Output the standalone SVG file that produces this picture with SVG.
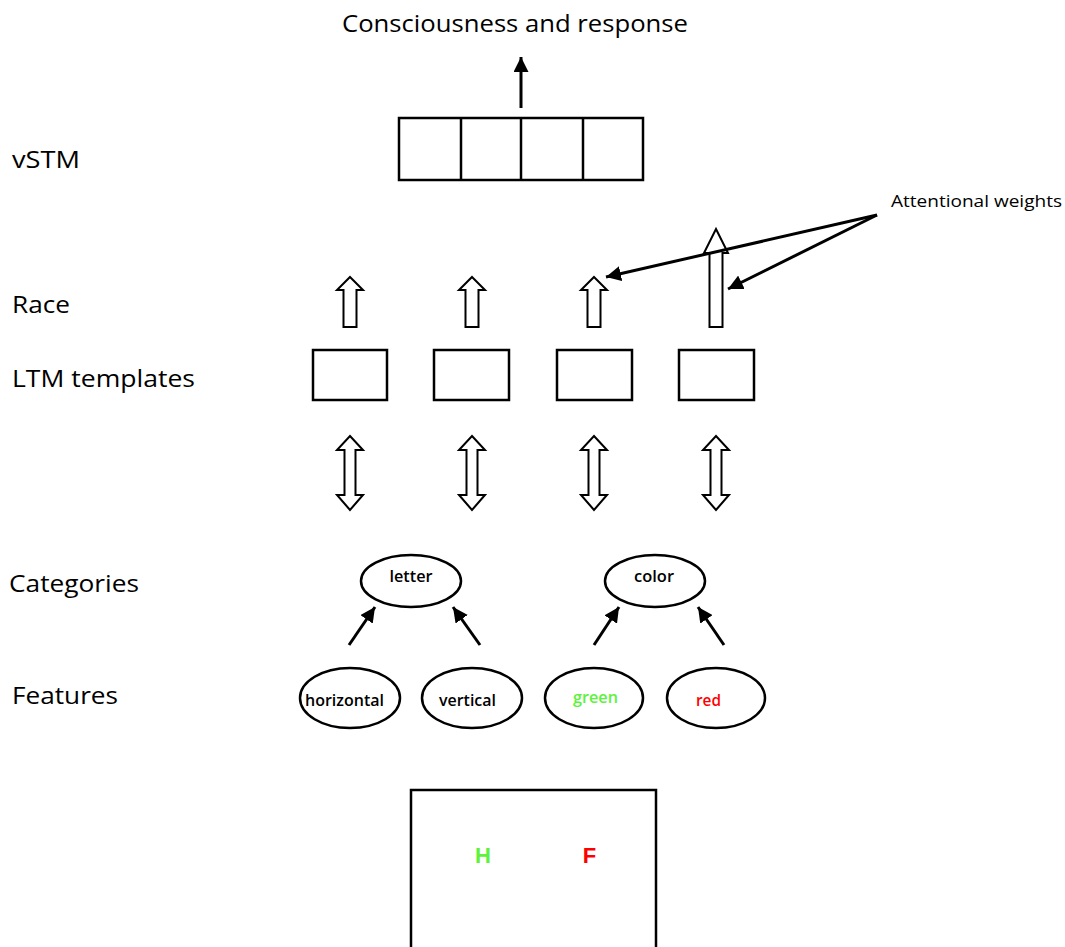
<svg xmlns="http://www.w3.org/2000/svg" width="1065" height="947" viewBox="0 0 1065 947">
  <style>
    .lbl { font-family: "Open Sans", Lato, "Liberation Sans", sans-serif; fill: #000; }
    .big { font-size: 24px; font-weight: 500; }
    .side { font-size: 24px; font-weight: 500; }
    .small { font-size: 16px; font-weight: 600; }
    .box { fill: #fff; stroke: #000; stroke-width: 2.5; }
    .block { fill: #fff; stroke: #000; stroke-width: 2; stroke-linejoin: miter; }
    .line { stroke: #000; stroke-width: 3; fill: none; }
  </style>
  <defs>
    <marker id="head" viewBox="0 0 10 10" refX="10" refY="5" markerWidth="15" markerHeight="15" markerUnits="userSpaceOnUse" orient="auto">
      <path d="M0,0 L10,5 L0,10 z" fill="#000"/>
    </marker>
  </defs>
  <rect width="1065" height="947" fill="#fff"/>

  <!-- level labels -->
  <g id="labels">
    <text class="lbl big" x="342" y="32" textLength="346" lengthAdjust="spacingAndGlyphs">Consciousness and response</text>
    <text class="lbl side" x="12" y="168" textLength="68" lengthAdjust="spacingAndGlyphs">vSTM</text>
    <text class="lbl side" x="12" y="313" textLength="58" lengthAdjust="spacingAndGlyphs">Race</text>
    <text class="lbl side" x="12" y="387" textLength="183" lengthAdjust="spacingAndGlyphs">LTM templates</text>
    <text class="lbl side" x="9" y="592" textLength="130" lengthAdjust="spacingAndGlyphs">Categories</text>
    <text class="lbl side" x="12" y="704" textLength="106" lengthAdjust="spacingAndGlyphs">Features</text>
    <text class="lbl small" x="891" y="207" textLength="171" lengthAdjust="spacingAndGlyphs" style="font-weight:500">Attentional weights</text>
  </g>

  <!-- visual short-term memory slots -->
  <g id="vstm">
    <rect class="box" x="399" y="118" width="244" height="62"/>
    <line class="line" x1="461" y1="118" x2="461" y2="180" style="stroke-width:2.5"/>
    <line class="line" x1="521" y1="118" x2="521" y2="180" style="stroke-width:2.5"/>
    <line class="line" x1="583" y1="118" x2="583" y2="180" style="stroke-width:2.5"/>
  </g>

  <!-- race arrows -->
  <g id="race">
    <polygon class="block" points="350,277 363,290 356.5,290 356.5,327 343.5,327 343.5,290 337,290"/>
    <polygon class="block" points="472,277 485,290 478.5,290 478.5,327 465.5,327 465.5,290 459,290"/>
    <polygon class="block" points="594,277 607,290 600.5,290 600.5,327 587.5,327 587.5,290 581,290"/>
    <polygon class="block" points="716,229 728,253 722.5,253 722.5,327 709.5,327 709.5,253 704,253"/>
  </g>

  <!-- LTM templates -->
  <g id="ltm1"><rect class="box" x="313" y="350" width="74" height="50"/></g>
  <g id="ltm2"><rect class="box" x="434" y="350" width="75" height="50"/></g>
  <g id="ltm3"><rect class="box" x="557" y="350" width="75" height="50"/></g>
  <g id="ltm4"><rect class="box" x="679" y="350" width="75" height="50"/></g>

  <!-- two-way links between templates and categories -->
  <g id="links">
    <polygon class="block" points="350,436 363,450 355.5,450 355.5,495 363,495 350,510 337,495 344.5,495 344.5,450 337,450"/>
    <polygon class="block" points="472,436 485,450 477.5,450 477.5,495 485,495 472,510 459,495 466.5,495 466.5,450 459,450"/>
    <polygon class="block" points="594,436 607,450 599.5,450 599.5,495 607,495 594,510 581,495 588.5,495 588.5,450 581,450"/>
    <polygon class="block" points="716,436 729,450 721.5,450 721.5,495 729,495 716,510 703,495 710.5,495 710.5,450 703,450"/>
  </g>

  <!-- categories -->
  <g id="cat-letter">
    <ellipse class="box" cx="411" cy="581" rx="50" ry="26"/>
    <text class="lbl small" x="411" y="582" text-anchor="middle" textLength="43" lengthAdjust="spacingAndGlyphs">letter</text>
  </g>
  <g id="cat-color">
    <ellipse class="box" cx="655" cy="581" rx="50" ry="26"/>
    <text class="lbl small" x="654" y="582" text-anchor="middle" textLength="40" lengthAdjust="spacingAndGlyphs">color</text>
  </g>

  <!-- features -->
  <g id="feat-horizontal">
    <ellipse class="box" cx="350" cy="698" rx="50" ry="30"/>
    <text class="lbl small" x="344.5" y="706" text-anchor="middle" textLength="79" lengthAdjust="spacingAndGlyphs">horizontal</text>
  </g>
  <g id="feat-vertical">
    <ellipse class="box" cx="472" cy="698" rx="50" ry="30"/>
    <text class="lbl small" x="467.5" y="706" text-anchor="middle" textLength="57" lengthAdjust="spacingAndGlyphs">vertical</text>
  </g>
  <g id="feat-green">
    <ellipse class="box" cx="594" cy="698" rx="49" ry="30"/>
    <text class="lbl small" x="595.5" y="703" text-anchor="middle" textLength="45" lengthAdjust="spacingAndGlyphs" style="fill:#5df23c">green</text>
  </g>
  <g id="feat-red">
    <ellipse class="box" cx="716" cy="698" rx="49" ry="30"/>
    <text class="lbl small" x="708.5" y="706" text-anchor="middle" textLength="25" lengthAdjust="spacingAndGlyphs" style="fill:#ff0000">red</text>
  </g>

  <!-- stimulus display -->
  <g id="display">
    <rect class="box" x="411" y="790" width="245" height="170"/>
    <text x="483" y="863" text-anchor="middle" font-family="'Liberation Sans', Arial, sans-serif" font-weight="bold" font-size="22" fill="#5df23c">H</text>
    <text x="589.5" y="863" text-anchor="middle" font-family="'Liberation Sans', Arial, sans-serif" font-weight="bold" font-size="22" fill="#ff0000">F</text>
  </g>

  <!-- connectors -->
  <g id="connectors">
    <line class="line" x1="521" y1="108" x2="521" y2="57" marker-end="url(#head)"/>
    <line class="line" x1="877" y1="215" x2="606" y2="277" marker-end="url(#head)"/>
    <line class="line" x1="877" y1="215" x2="728" y2="289" marker-end="url(#head)"/>
    <line class="line" x1="349" y1="645" x2="375" y2="607" marker-end="url(#head)"/>
    <line class="line" x1="480" y1="645" x2="453" y2="607" marker-end="url(#head)"/>
    <line class="line" x1="594" y1="645" x2="619" y2="607" marker-end="url(#head)"/>
    <line class="line" x1="724" y1="645" x2="698" y2="607" marker-end="url(#head)"/>
  </g>
</svg>
